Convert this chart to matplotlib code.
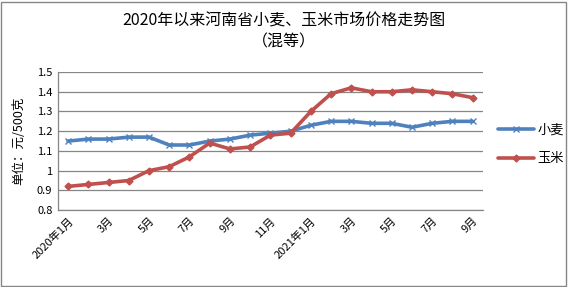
import matplotlib
matplotlib.use("Agg")
import matplotlib.pyplot as plt
from matplotlib.patches import Rectangle

plt.rcParams['font.family'] = ['Noto Sans CJK SC', 'DejaVu Sans']

months = ["2020年1月", "2月", "3月", "4月", "5月", "6月", "7月", "8月", "9月",
          "10月", "11月", "12月", "2021年1月", "2月", "3月", "4月", "5月",
          "6月", "7月", "8月", "9月"]
wheat = [1.15, 1.16, 1.16, 1.17, 1.17, 1.13, 1.13, 1.15, 1.16, 1.18, 1.19,
         1.20, 1.23, 1.25, 1.25, 1.24, 1.24, 1.22, 1.24, 1.25, 1.25]
corn = [0.92, 0.93, 0.94, 0.95, 1.00, 1.02, 1.07, 1.14, 1.11, 1.12, 1.18,
        1.19, 1.30, 1.39, 1.42, 1.40, 1.40, 1.41, 1.40, 1.39, 1.37]
yticks = [0.8, 0.9, 1, 1.1, 1.2, 1.3, 1.4, 1.5]

fig = plt.figure(figsize=(5.68, 2.87), dpi=100)
ax = fig.add_axes([0.102, 0.268, 0.748, 0.481])

x = list(range(len(months)))
ax.plot(x, wheat, color="#4F81BD", lw=2.6, marker="x", ms=4.5, mew=1,
        label="小麦", solid_capstyle="round")
ax.plot(x, corn, color="#C0504D", lw=2.6, marker="D", ms=3.5,
        label="玉米", solid_capstyle="round")

ax.set_xlim(-0.5, len(months) - 0.5)
ax.set_ylim(0.8, 1.5)
ax.set_yticks(yticks)
ax.set_yticklabels([f"{v:g}" for v in yticks], fontsize=8)
ax.set_xticks(x[::2])
ax.set_xticklabels(months[::2], rotation=45, ha="right", va="top",
                   rotation_mode="anchor", fontsize=8)
ax.tick_params(length=0, pad=4)
ax.grid(axis="y", color="#868686", lw=0.9)
ax.set_axisbelow(True)
for s in ["top", "right"]:
    ax.spines[s].set_visible(False)
for s in ["left", "bottom"]:
    ax.spines[s].set_color("#868686")
    ax.spines[s].set_linewidth(0.9)

ax.set_ylabel("单位：元/500克", fontsize=9)
ax.yaxis.set_label_coords(-0.076, 0.5)

fig.text(0.5, 0.928, "2020年以来河南省小麦、玉米市场价格走势图", ha="center",
         va="center", fontsize=11.5)
fig.text(0.5, 0.853, "（混等）", ha="center", va="center", fontsize=11.5)

ax.legend(loc="center left", bbox_to_anchor=(1.02, 0.475), frameon=False,
          fontsize=9.5, handlelength=2.7, labelspacing=1.2, borderpad=0,
          handletextpad=0.3)

fig.add_artist(Rectangle((0.002, 0.004), 0.994, 0.99, transform=fig.transFigure,
                         fill=False, ec="#868686", lw=1))

fig.savefig("out.png", dpi=100)
